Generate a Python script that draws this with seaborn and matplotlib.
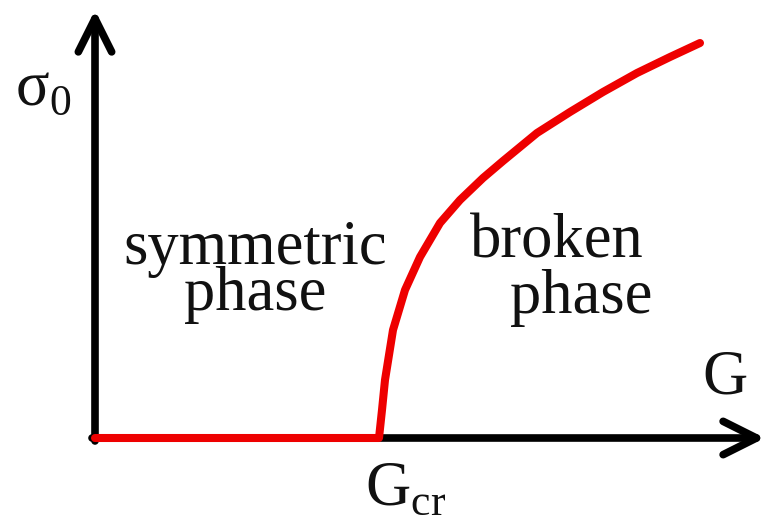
import matplotlib
matplotlib.use("Agg")
import matplotlib.pyplot as plt
import seaborn as sns
import numpy as np
import pandas as pd

# order parameter curve (arbitrary units)
g_values = [0.00, 2.84, 2.87, 2.90, 2.98, 3.10, 3.25, 3.45, 3.65, 3.88, 4.08,
            4.42, 4.75, 5.08, 5.42, 5.75, 6.05]
sigma_values = [0.00, 0.00, 0.28, 0.58, 1.08, 1.48, 1.81, 2.15, 2.38, 2.60, 2.77,
                3.05, 3.26, 3.46, 3.65, 3.81, 3.95]
g_cr = 2.84

sns.set_style("white")
plt.rcParams['font.family'] = ['Liberation Serif', 'DejaVu Serif']
plt.rcParams['mathtext.fontset'] = 'custom'
plt.rcParams['mathtext.rm'] = 'Liberation Serif'

df = pd.DataFrame({'G': g_values, 'sigma': sigma_values})

fig = plt.figure(figsize=(7.69, 5.18), dpi=100)
ax = fig.add_axes([0, 0, 1, 1])
ax.set_xlim(-0.95, 6.74)
ax.set_ylim(-0.80, 4.38)
ax.axis('off')

# axes with arrows
arrow = dict(arrowstyle='->,head_length=2.4,head_width=1.2', lw=5.5, color='black',
             shrinkA=0, shrinkB=0, mutation_scale=10)
ax.annotate('', xy=(6.70, 0), xytext=(-0.03, 0), arrowprops=arrow)
ax.annotate('', xy=(0, 4.28), xytext=(0, -0.03), arrowprops=arrow)

sns.lineplot(data=df, x='G', y='sigma', sort=False, estimator=None, ax=ax,
             color='#ee0000', linewidth=5.8, solid_capstyle='round',
             solid_joinstyle='round', zorder=3)

fs = 45
tc = '#111111'
ax.text(1.60, 1.66, 'symmetric\nphase', ha='center', va='center', multialignment='center',
        linespacing=0.74, fontsize=fs, color=tc)
ax.text(4.62, 1.80, 'broken', ha='center', va='baseline', fontsize=fs, color=tc)
ax.text(4.86, 1.25, 'phase', ha='center', va='baseline', fontsize=fs, color=tc)
ax.text(6.30, 0.45, 'G', ha='center', va='baseline', fontsize=fs, color=tc)
ax.text(g_cr - 0.14, -0.67, r'G$_\mathregular{cr}$', ha='left', va='baseline', fontsize=fs, color=tc)
ax.text(-0.80, 3.33, r'σ$_\mathregular{0}$', ha='left', va='baseline', fontsize=fs, color=tc)

fig.savefig('out.png', dpi=100)
